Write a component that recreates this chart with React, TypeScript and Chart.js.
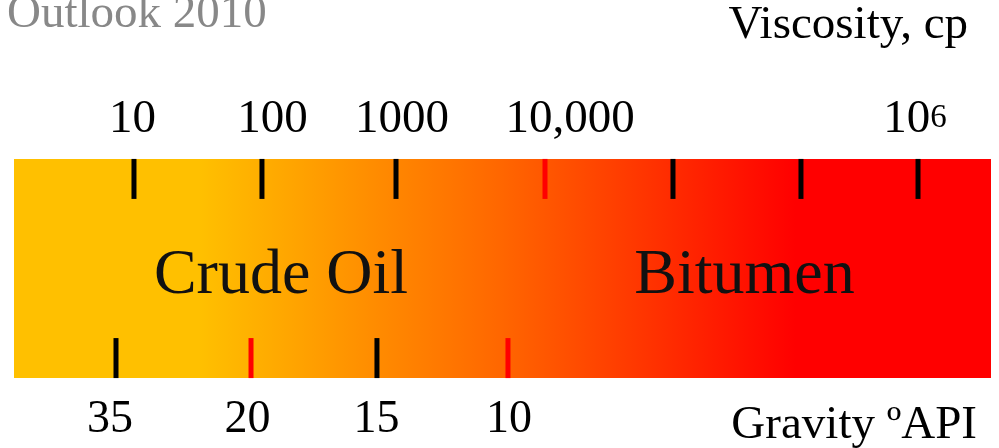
import React, { useEffect, useRef } from "react";
import { Chart, registerables } from "chart.js";

Chart.register(...registerables);

// Position along the schematic band (0 = left end, 100 = right end)
const viscosityTickPos = [12.28, 25.38, 39.1, 54.35, 67.45, 80.55, 92.53];
const viscosityTickRed = [false, false, false, true, false, false, false];
const viscosityLabels = ["10", "100", "1000", "10,000", "10"];
const viscosityLabelSup = ["", "", "", "", "6"];
const viscosityLabelPos = [12.13, 26.46, 39.71, 56.91, 92.22];

const gravityTickPos = [10.44, 24.26, 37.15, 50.56];
const gravityTickRed = [false, true, false, true];
const gravityLabels = ["35", "20", "15", "10"];
const gravityLabelPos = [9.83, 23.9, 37.1, 50.67];

const classNames = ["Crude Oil", "Bitumen"];
const classPos = [27.33, 74.77];

const bandRange = [0, 100];

const SERIF = "'Liberation Serif', 'Times New Roman', serif";

const textPlugin = {
  id: "schematicText",
  afterDatasetsDraw(chart: any) {
    const { ctx, chartArea } = chart;
    const xs = chart.scales.x;
    const ys = chart.scales.y;
    ctx.save();
    ctx.textBaseline = "alphabetic";

    // Title
    ctx.fillStyle = "#888888";
    ctx.textAlign = "left";
    ctx.font = `47px ${SERIF}`;
    ctx.fillText("Outlook 2010", 7, 27);

    // Axis names
    ctx.fillStyle = "#000000";
    ctx.textAlign = "right";
    ctx.font = `47px ${SERIF}`;
    ctx.fillText("Viscosity, cp", chartArea.right - 23, 38);
    ctx.fillText("Gravity \u00BAAPI", chartArea.right - 14, 438);

    // Viscosity labels
    viscosityLabels.forEach((lab, i) => {
      const cx = xs.getPixelForValue(viscosityLabelPos[i]);
      ctx.font = `47px ${SERIF}`;
      const w1 = ctx.measureText(lab).width;
      const sup = viscosityLabelSup[i];
      let w2 = 0;
      if (sup) {
        ctx.font = `33px ${SERIF}`;
        w2 = ctx.measureText(sup).width;
      }
      const start = cx - (w1 + w2) / 2;
      ctx.textAlign = "left";
      ctx.font = `47px ${SERIF}`;
      ctx.fillText(lab, start, 132);
      if (sup) {
        ctx.font = `33px ${SERIF}`;
        ctx.fillText(sup, start + w1, 127);
      }
    });

    // Gravity labels
    ctx.textAlign = "center";
    ctx.font = `46px ${SERIF}`;
    gravityLabels.forEach((lab, i) => {
      ctx.fillText(lab, xs.getPixelForValue(gravityLabelPos[i]), 432);
    });

    // Class names
    ctx.fillStyle = "#111111";
    ctx.font = `64px ${SERIF}`;
    classNames.forEach((lab, i) => {
      ctx.fillText(lab, xs.getPixelForValue(classPos[i]), ys.getPixelForValue(0.388));
    });
    ctx.restore();
  },
};

export default function App() {
  const canvasRef = useRef<HTMLCanvasElement | null>(null);

  useEffect(() => {
    if (!canvasRef.current) return;
    const chart = new Chart(canvasRef.current, {
      type: "scatter",
      data: {
        datasets: [
          {
            data: viscosityTickPos.map((x) => ({ x, y: 0.909 })),
            order: 0,
            pointStyle: "line",
            rotation: 90,
            pointRadius: 20,
            pointBorderWidth: 5,
            pointBorderColor: viscosityTickRed.map((r) => (r ? "#FF0000" : "#000000")),
            pointBackgroundColor: "transparent",
            clip: false,
          } as any,
          {
            data: gravityTickPos.map((x) => ({ x, y: 0.091 })),
            order: 0,
            pointStyle: "line",
            rotation: 90,
            pointRadius: 20,
            pointBorderWidth: 5,
            pointBorderColor: gravityTickRed.map((r) => (r ? "#FF0000" : "#000000")),
            pointBackgroundColor: "transparent",
            clip: false,
          } as any,
          {
            type: "line",
            order: 10,
            data: bandRange.map((x) => ({ x, y: 1 })),
            fill: "origin",
            borderWidth: 0,
            pointRadius: 0,
            backgroundColor: (c: any) => {
              const ca = c.chart.chartArea;
              if (!ca) return "#FFC000";
              const g = c.chart.ctx.createLinearGradient(ca.left, 0, ca.right, 0);
              g.addColorStop(0, "#FFC000");
              g.addColorStop(0.19, "#FFC000");
              g.addColorStop(0.5, "#FF6600");
              g.addColorStop(0.8, "#FF0000");
              g.addColorStop(1, "#FF0000");
              return g;
            },
          } as any,
        ],
      },
      options: {
        responsive: false,
        animation: false,
        events: [],
        layout: { autoPadding: false, padding: { left: 14, right: 8, top: 159, bottom: 70 } },
        scales: {
          x: { type: "linear", min: 0, max: 100, display: false },
          y: { type: "linear", min: 0, max: 1, display: false },
        },
        plugins: {
          legend: { display: false },
          tooltip: { enabled: false },
        },
      },
      plugins: [textPlugin],
    });
    return () => chart.destroy();
  }, []);

  return (
    <div style={{ position: "absolute", left: 0, top: 0, width: 999, height: 448, background: "#ffffff" }}>
      <canvas ref={canvasRef} width={999} height={448} style={{ display: "block" }} />
    </div>
  );
}
